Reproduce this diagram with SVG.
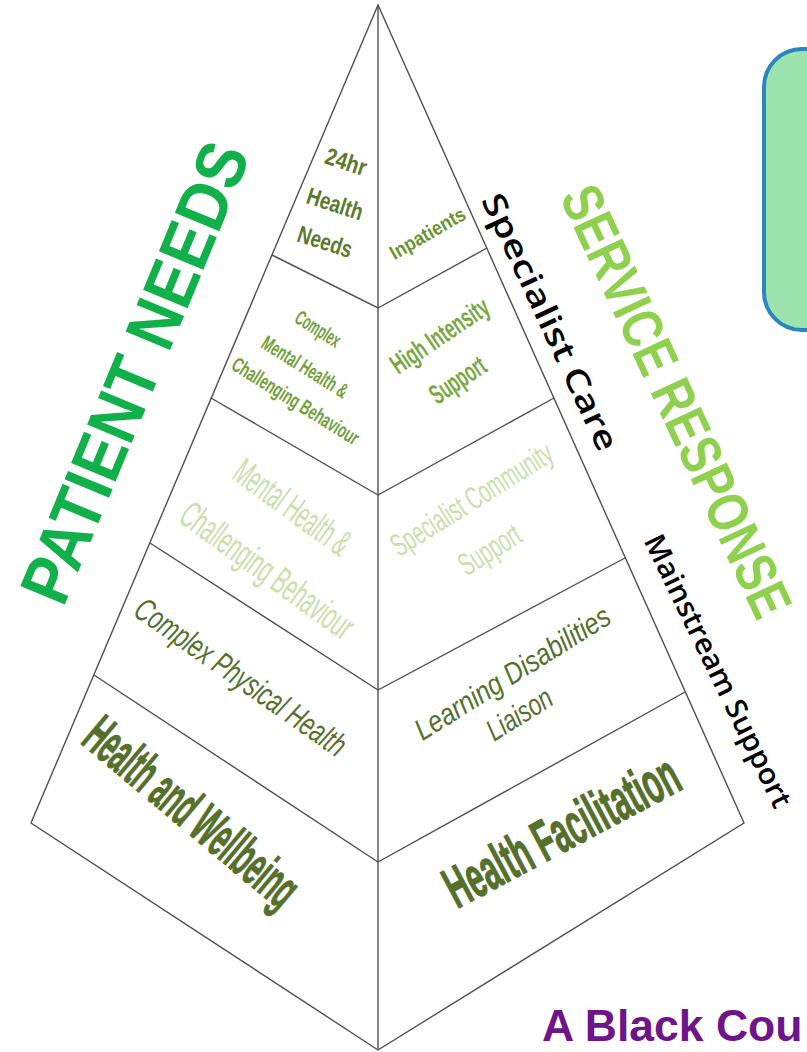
<svg xmlns="http://www.w3.org/2000/svg" width="807" height="1052" viewBox="0 0 807 1052">
<style>
.ln{fill:none;stroke:#505050;stroke-width:1.4;stroke-linejoin:miter}
.t{font-family:"Liberation Sans",Arial,sans-serif;text-anchor:middle}
.o{font-family:"Open Sans","Noto Sans",sans-serif;text-anchor:middle}
.b{font-weight:700}
.i{font-style:italic}
.dk{fill:#55702b}
.lt{fill:#c8e0aa}
.bk{fill:#000000;font-weight:600}
</style>
<rect width="807" height="1052" fill="#ffffff"/>
<g id="infobox">
<rect x="764" y="49" width="90" height="281" rx="38" fill="#9de3ae" stroke="#2a85c0" stroke-width="4"/>
</g>
<g id="connectors">
<polygon class="ln" points="378,5 31,823 378,1050 744,823"/>
<line class="ln" x1="378" y1="5" x2="378" y2="1050"/>
<polyline class="ln" points="272,255 378,308 487,248"/>
<polyline class="ln" points="211,398 378,495 554,398"/>
<polyline class="ln" points="150,543 378,690 625,558"/>
<polyline class="ln" points="94,675 378,862 685,692"/>
</g>
<g id="patient-needs">
<text class="t b" transform="translate(134,372) rotate(-67.5) scale(0.893,1)" x="0" y="25" font-size="70" fill="#12b04b">PATIENT NEEDS</text>
</g>
<g id="service-response">
<text class="t b" transform="translate(677,401) rotate(65) scale(0.8,1)" x="0" y="20.5" font-size="57.5" fill="#8fd14f">SERVICE RESPONSE</text>
</g>
<g id="specialist-care">
<text class="o bk" transform="translate(550,322) rotate(65)" x="0" y="11" font-size="32" textLength="280" lengthAdjust="spacingAndGlyphs">Specialist Care</text>
</g>
<g id="mainstream-support">
<text class="o bk" transform="translate(718,671) rotate(64)" x="0" y="10" font-size="29" textLength="300" lengthAdjust="spacingAndGlyphs">Mainstream Support</text>
</g>
<g id="tier1-needs" fill="#5b7a2d">
<text class="t b" font-size="24" transform="translate(346,162) rotate(18) scale(0.83,1)" x="0" y="8">24hr</text>
<text class="t b" font-size="24" transform="translate(335,204) rotate(18) scale(0.79,1)" x="0" y="8">Health</text>
<text class="t b" font-size="24" transform="translate(325,242) rotate(18) scale(0.78,1)" x="0" y="8">Needs</text>
</g>
<g id="tier1-response" fill="#6a9432">
<text class="t b" font-size="20" transform="translate(428,234) rotate(-30) scale(0.89,1)" x="0" y="6">Inpatients</text>
</g>
<g id="tier2-needs" fill="#74a03b">
<text class="t b" font-size="21" transform="translate(318,329) rotate(32) scale(0.561,1)" x="0" y="7">Complex</text>
<text class="t b" font-size="21" transform="translate(305,367) rotate(32) scale(0.622,1)" x="0" y="7">Mental Health &amp;</text>
<text class="t b" font-size="21" transform="translate(295,402) rotate(32) scale(0.639,1)" x="0" y="6">Challenging Behaviour</text>
</g>
<g id="tier2-response" fill="#7aa843">
<text class="t b" font-size="28" transform="translate(440,336) rotate(-34) scale(0.61,1)" x="0" y="9">High Intensity</text>
<text class="t b" font-size="28" transform="translate(459,382) rotate(-34) scale(0.578,1)" x="0" y="7">Support</text>
</g>
<g id="tier3-needs">
<text class="t lt" font-size="38" transform="translate(292,508) rotate(36) scale(0.5,1)" x="0" y="12">Mental Health &amp;</text>
<text class="t lt" font-size="38" transform="translate(266,572) rotate(36) scale(0.536,1)" x="0" y="11">Challenging Behaviour</text>
</g>
<g id="tier3-response">
<text class="t lt" font-size="32" transform="translate(472,500) rotate(-32) scale(0.601,1)" x="0" y="10">Specialist Community</text>
<text class="t lt" font-size="32" transform="translate(491,552) rotate(-32) scale(0.607,1)" x="0" y="8">Support</text>
</g>
<g id="tier4-needs">
<text class="t i dk" font-size="33" transform="translate(240,678) rotate(35) scale(0.682,1)" x="0" y="10">Complex Physical Health</text>
</g>
<g id="tier4-response">
<text class="t i dk" font-size="30" transform="translate(513,674) rotate(-32) scale(0.838,1)" x="0" y="9">Learning Disabilities</text>
<text class="t i dk" font-size="30" transform="translate(520,715) rotate(-32) scale(0.758,1)" x="0" y="9">Liaison</text>
</g>
<g id="tier5-needs">
<text class="t b dk" font-size="56" stroke="#55702b" stroke-width="1.2" transform="translate(192,812) rotate(40) scale(0.463,1)" x="0" y="19">Health and Wellbeing</text>
</g>
<g id="tier5-response">
<text class="t b dk" font-size="58" stroke="#55702b" stroke-width="1.2" transform="translate(561,830) rotate(-28) scale(0.516,1)" x="0" y="21">Health Facilitation</text>
</g>
<g id="footer">
<text x="542" y="1041" font-family="'Liberation Sans',Arial,sans-serif" font-weight="700" font-size="44.5" fill="#6e1589">A Black Cou</text>
</g>
</svg>
